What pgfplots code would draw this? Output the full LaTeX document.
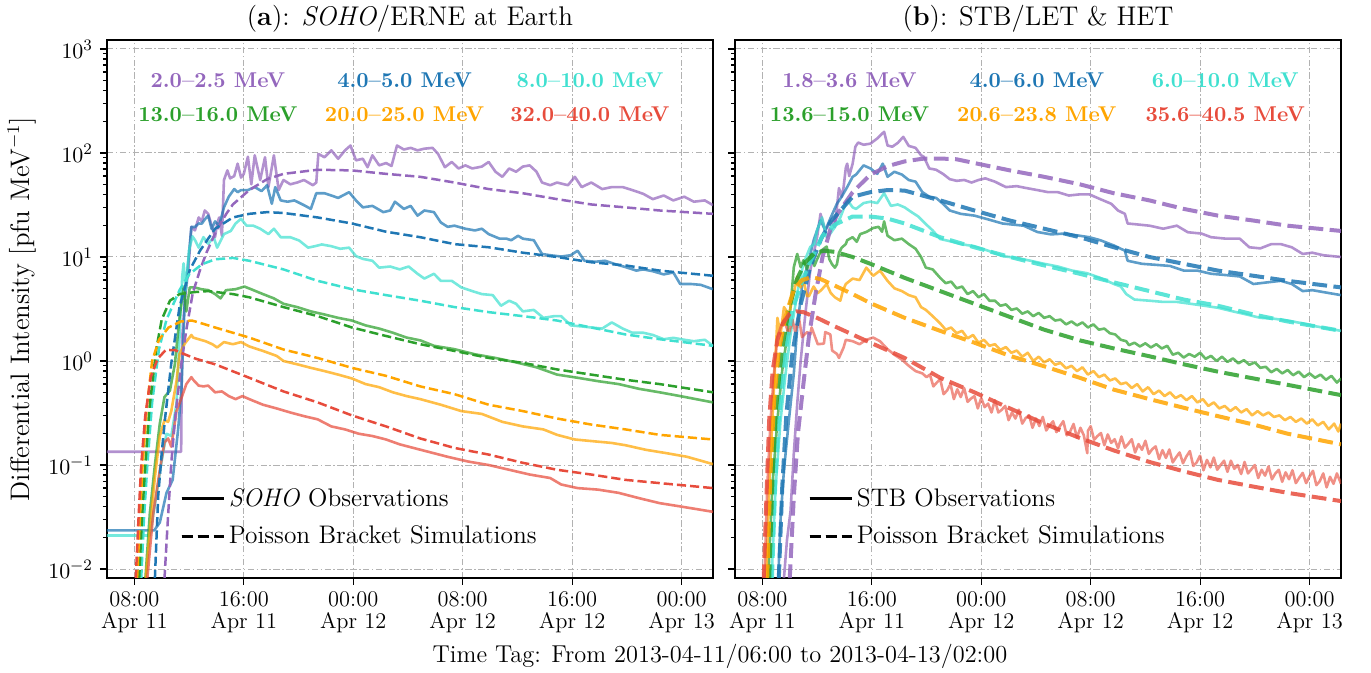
\documentclass[border=0pt]{standalone}
\usepackage{pgfplots}
\pgfplotsset{compat=1.18}
\definecolor{cpur}{HTML}{9467BD}
\definecolor{cblu}{HTML}{1F77B4}
\definecolor{ccya}{HTML}{40E0D0}
\definecolor{cgrn}{HTML}{2CA02C}
\definecolor{corg}{HTML}{FFA500}
\definecolor{cred}{HTML}{E74C3C}
\definecolor{cgrid}{RGB}{178,178,178}
\tikzset{
 obs/.style={line width=1.3pt, opacity=0.72, line join=round},
 simL/.style={line width=1.25pt, dash pattern=on 4.6pt off 2pt},
 simR/.style={line width=2pt, dash pattern=on 7.4pt off 3.2pt, opacity=0.85},
 elab/.style={font=\fontsize{10.7}{12}\selectfont\bfseries, anchor=center},
}
\pgfplotsset{every axis title/.style={at={(axis description cs:0.5,1)}, anchor=base, yshift=7pt, font=\fontsize{13.5}{15}\selectfont}}
\begin{document}
\begin{tikzpicture}
\useasboundingbox (-53.5pt,-47.5pt) rectangle (632pt,289pt);
% ================= LEFT PANEL =================
\begin{axis}[at={(0pt,0pt)}, anchor=south west,
  width=303pt, height=269pt, scale only axis,
  xmin=0, xmax=44.3, ymode=log, ymin=0.0082, ymax=1220,
  xtick={2,10,18,26,34,42},
  xticklabels={{08:00\\Apr 11},{16:00\\Apr 11},{00:00\\Apr 12},{08:00\\Apr 12},{16:00\\Apr 12},{00:00\\Apr 13}},
  xticklabel style={align=center, font=\fontsize{11.2}{10.9}\selectfont},
  ytick={0.01,0.1,1,10,100,1000},
  yticklabel style={font=\fontsize{11.2}{13}\selectfont},
  tick align=outside, tick pos=left,
  major tick length=3.5pt, minor tick length=2pt,
  tick style={black, line width=0.6pt},
  grid=major,
  major grid style={cgrid, line width=0.5pt, dash pattern=on 3.2pt off 1.2pt on 0.8pt off 1.2pt},
  axis line style={line width=0.9pt},
  legend image code/.code={\draw[#1] (0pt,0pt) -- (15pt,0pt); \path (0pt,0pt) -- (21pt,0pt);},
  legend cell align=left,
  legend style={at={(axis description cs:0.121,0.0502)}, anchor=south west, draw=none, fill=none,
    inner sep=0pt, outer sep=0pt, row sep=4.5pt, column sep=0pt,
    font=\fontsize{12.7}{14}\selectfont},
  title={(\textbf{a}): \textit{SOHO}/ERNE at Earth},
  ylabel={Differential Intensity [pfu MeV$^{-1}$]},
  ylabel style={at={(axis description cs:-0.1403,0.5)}, anchor=center, font=\fontsize{13.4}{14}\selectfont}]
\addlegendimage{black, line width=1.25pt}
\addlegendentry{\textit{SOHO} Observations}
\addlegendimage{black, line width=1.25pt, dash pattern=on 5.5pt off 2.5pt}
\addlegendentry{Poisson Bracket Simulations}
% observations
\addplot[obs, cpur, forget plot] table {
0 0.134
5.42 0.134
5.46 0.6
5.5 1.7
5.7 4
5.94 7.4
6.17 19.5
6.43 18
6.7 24
6.93 22
7.15 28
7.4 26
7.65 20
7.9 15.5
8.05 21
8.2 24
8.4 16
8.55 55
8.8 68
9.0 57
9.3 60
9.55 79
9.8 58
10.0 63
10.3 92
10.55 50
10.8 95
11.2 55
11.55 91
11.8 47
12.2 95
12.55 44
12.9 55
13.4 50
13.9 52
14.4 55
15.05 49
15.3 52
15.45 98
15.9 91
16.4 106
16.9 88
17.4 106
17.8 118
18.2 85
18.7 88
19.05 73
19.4 95
19.9 76
20.4 80
20.8 75
21.2 118
21.7 108
22.2 112
22.7 106
23.2 110
23.8 112
24.2 98
24.7 73
25.2 82
25.7 71
26.2 76
26.7 71
27.4 74
27.9 82
28.4 66
28.9 59
29.4 71
29.9 66
30.4 74
30.9 76
31.4 66
31.8 52
32.4 49
32.9 52
33.7 49
34.2 59
34.7 47
35.4 52
36.2 45
36.9 47
37.7 47
38.4 44
39.2 40.5
39.9 36
40.7 39
41.4 35
42.2 38
42.9 34
43.7 35
44.3 31.5
};
\addplot[obs, cblu, forget plot] table {
0 0.0235
3.45 0.0235
3.86 0.028
4.35 0.054
4.8 0.072
5.2 0.22
5.44 0.53
5.7 4.2
5.93 8.7
6.17 19.5
6.43 19.4
6.7 21
6.93 20.9
7.15 23
7.4 25
7.65 18.6
7.9 22
8.2 20
8.55 30
8.9 38
9.3 45
9.55 42
9.8 44
10.3 44
10.8 47
11.3 43
11.7 49
12.05 32.5
12.3 47
12.7 35
13.2 34
13.7 35
14.4 31.5
14.9 29
15.3 41
15.9 41
16.4 39
16.9 37
17.7 42
18.2 35
18.7 30
19.4 31
20.2 27
20.7 28
21.05 34
21.7 29
22.2 31
22.7 25
23.2 28
23.9 27
24.4 21.5
24.9 19.5
25.4 20
26.2 18.7
26.9 18
27.4 18.7
27.9 16.6
28.7 15
29.2 15
29.55 14.5
30.05 16
30.4 15
31.2 14.5
31.8 10.7
32.4 10.4
33.2 10.1
33.9 10.4
34.4 11.5
34.9 9.2
35.7 9.0
36.4 9.2
37.2 8.5
37.9 8.0
38.7 7.4
39.2 7.6
39.9 7.3
40.7 6.8
41.4 7.1
41.9 5.5
42.7 5.5
43.4 5.4
44.3 4.9
};
\addplot[obs, ccya, forget plot] table {
0 0.021
3.13 0.021
3.6 0.05
4.0 0.11
4.35 0.2
4.7 0.19
5.08 0.39
5.3 1.7
5.5 6.5
5.6 8.7
5.76 4.8
6.0 11.7
6.25 15.8
6.45 14.4
6.7 12.3
7.05 15.5
7.4 13.4
7.8 15.5
8.05 12.3
8.55 16.6
9.05 17.8
9.4 21
9.8 23.3
10.2 20
10.7 20
11.2 18.7
11.8 16.6
12.2 18.7
12.7 15.5
13.4 15.5
14.05 14.4
14.7 12.3
15.2 12.7
15.7 13.2
16.4 12.7
17.05 12
17.7 12.3
18.2 10.2
18.7 9.6
19.4 9.2
19.9 7.9
20.7 8.1
21.4 7.6
22.05 8.1
22.7 6.9
23.2 6.2
23.9 6.9
24.4 5.9
25.2 5.9
25.9 5.1
26.7 4.7
27.4 4.4
28.2 4.3
28.8 3.4
29.4 3.8
29.9 3.55
30.4 3.0
31.2 3.1
31.9 2.6
32.7 2.7
33.2 2.7
33.9 2.2
34.7 2.15
35.4 2.1
36.2 2.05
36.9 2.35
37.7 2.05
38.4 1.87
39.2 1.87
39.9 1.78
40.7 1.62
41.4 1.67
42.2 1.6
42.9 1.55
43.7 1.6
44.3 1.4
};
\addplot[obs, cgrn, forget plot] table {
2.7 0.005
3.13 0.034
3.5 0.1
3.86 0.25
4.2 0.45
4.6 0.52
4.96 0.93
5.3 2.6
5.6 5.1
5.8 3.0
6.05 5.1
6.4 5.1
6.9 4.9
7.4 4.8
7.9 4.4
8.3 4.0
8.7 4.8
9.4 4.9
10.05 5.2
10.7 4.8
11.4 4.4
12.2 4.0
12.9 3.55
13.9 3.3
14.9 3.0
15.9 2.8
16.9 2.6
17.9 2.45
18.9 2.2
19.9 2.05
20.9 1.87
21.9 1.68
22.9 1.58
23.9 1.4
25.4 1.3
26.9 1.16
28.4 1.07
29.9 0.97
31.4 0.87
32.9 0.74
34.4 0.69
35.9 0.64
37.4 0.6
38.9 0.54
40.4 0.5
41.9 0.46
44.3 0.4
};
\addplot[obs, corg, forget plot] table {
2.7 0.005
3.13 0.023
3.5 0.076
3.86 0.19
4.2 0.27
4.47 0.26
4.7 0.33
5.08 0.64
5.3 1.17
5.7 1.48
6.17 1.78
6.3 1.68
6.7 1.62
7.2 1.55
7.7 1.45
8.05 1.35
8.55 1.52
9.2 1.45
9.8 1.52
10.4 1.38
11.4 1.25
12.4 1.12
12.9 1.0
13.9 0.93
14.9 0.86
15.9 0.8
16.9 0.74
17.9 0.68
18.9 0.6
19.9 0.56
20.9 0.5
21.9 0.46
22.9 0.43
24.4 0.38
25.9 0.33
27.4 0.31
28.9 0.26
30.4 0.235
31.9 0.22
32.9 0.195
34.2 0.176
35.4 0.17
36.9 0.163
37.9 0.155
39.4 0.14
40.9 0.13
42.4 0.12
44.3 0.102
};
\addplot[obs, cred, forget plot] table {
2.8 0.005
3.38 0.034
3.86 0.089
4.2 0.165
4.47 0.18
4.7 0.15
5.08 0.33
5.44 0.44
5.8 0.6
6.17 0.7
6.3 0.66
6.7 0.58
7.05 0.57
7.4 0.58
7.9 0.5
8.4 0.51
8.9 0.46
9.4 0.43
9.9 0.46
10.4 0.43
11.4 0.38
12.4 0.35
13.4 0.32
14.4 0.295
15.4 0.275
16.4 0.235
17.4 0.22
18.4 0.2
19.4 0.19
20.4 0.176
21.4 0.158
22.4 0.146
23.4 0.135
24.9 0.12
26.4 0.108
27.9 0.1
29.4 0.09
30.9 0.081
32.4 0.075
33.2 0.065
34.4 0.06
35.9 0.058
37.4 0.054
38.9 0.048
40.4 0.043
41.9 0.04
44.3 0.0355
};
% simulations
\addplot[simL, cpur, forget plot] table {
4.2 0.008
4.45 0.03
4.7 0.105
5.0 0.3
5.44 0.95
5.8 2.0
6.27 4.5
6.8 7.5
7.27 11
8.0 18
8.72 26
9.2 32
10.4 44
11.7 56
12.9 63
15.4 69
17.9 68
20.4 63
22.9 59
25.4 52
27.9 45
30.4 41
32.9 36
35.4 32
37.9 30
40.4 28
44.3 26
};
\addplot[simL, cblu, forget plot] table {
3.5 0.008
3.74 0.05
4.0 0.13
4.23 0.27
4.7 0.95
5.3 3.3
6.05 7.5
6.8 11.5
7.5 15.7
7.9 18.7
9.2 24
10.4 26
11.7 27
12.9 26.5
15.4 24
17.9 21
20.4 17.5
22.9 15.5
25.4 13.3
27.9 12.4
30.4 11
32.9 10
35.4 8.9
37.9 8.3
40.4 7.4
44.3 6.6
};
\addplot[simL, ccya, forget plot] table {
2.5 0.008
2.7 0.03
2.95 0.1
3.3 0.4
3.8 1.3
4.35 2.5
5.3 4.8
6.0 6.8
6.93 8.5
7.9 9.5
9.2 9.8
10.4 9.2
12.9 7.6
15.4 5.9
17.9 4.9
20.4 4.3
22.9 3.8
25.4 3.3
27.9 2.95
30.4 2.7
32.9 2.45
35.4 2.1
37.9 1.8
40.4 1.62
44.3 1.4
};
\addplot[simL, cgrn, forget plot] table {
2.35 0.008
2.55 0.03
2.8 0.1
3.1 0.35
3.6 1.3
4.0 2.5
4.6 3.8
5.3 4.4
6.4 4.6
7.4 4.7
9.2 4.4
10.4 4.1
12.9 3.3
15.4 2.7
17.9 2.1
20.4 1.74
22.9 1.45
25.4 1.25
27.9 1.07
30.4 0.96
32.9 0.83
35.4 0.74
37.9 0.66
40.4 0.6
44.3 0.5
};
\addplot[simL, corg, forget plot] table {
2.2 0.008
2.4 0.03
2.6 0.1
2.9 0.35
3.3 1.0
3.8 1.6
4.5 2.1
5.4 2.4
6.2 2.45
6.7 2.35
7.9 2.1
10.4 1.68
12.9 1.29
15.4 1.07
17.9 0.86
20.4 0.72
22.9 0.57
25.4 0.48
27.9 0.38
30.4 0.33
32.9 0.28
35.4 0.245
37.9 0.22
40.4 0.195
44.3 0.176
};
\addplot[simL, cred, forget plot] table {
2.1 0.008
2.3 0.03
2.5 0.1
2.8 0.3
3.2 0.7
3.7 1.05
4.3 1.28
5.0 1.27
5.4 1.2
6.5 1.05
7.9 0.93
10.4 0.69
12.9 0.51
15.4 0.4
17.9 0.3
20.4 0.235
22.9 0.18
25.4 0.146
27.9 0.126
30.4 0.105
32.9 0.09
35.4 0.081
37.9 0.072
40.4 0.067
44.3 0.06
};
\node[elab, text=cpur] at (rel axis cs:0.183,0.926) {2.0--2.5 MeV};
\node[elab, text=cblu] at (rel axis cs:0.491,0.926) {4.0--5.0 MeV};
\node[elab, text=ccya] at (rel axis cs:0.797,0.926) {8.0--10.0 MeV};
\node[elab, text=cgrn] at (rel axis cs:0.183,0.862) {13.0--16.0 MeV};
\node[elab, text=corg] at (rel axis cs:0.491,0.862) {20.0--25.0 MeV};
\node[elab, text=cred] at (rel axis cs:0.797,0.862) {32.0--40.0 MeV};
\end{axis}
% ================= RIGHT PANEL =================
\begin{axis}[at={(314pt,0pt)}, anchor=south west,
  width=303pt, height=269pt, scale only axis,
  xmin=0, xmax=44.3, ymode=log, ymin=0.0082, ymax=1220,
  xtick={2,10,18,26,34,42},
  xticklabels={{08:00\\Apr 11},{16:00\\Apr 11},{00:00\\Apr 12},{08:00\\Apr 12},{16:00\\Apr 12},{00:00\\Apr 13}},
  xticklabel style={align=center, font=\fontsize{11.2}{10.9}\selectfont},
  ytick={0.01,0.1,1,10,100,1000},
  yticklabels={},
  tick align=outside, tick pos=left,
  major tick length=3.5pt, minor tick length=2pt,
  tick style={black, line width=0.6pt},
  grid=major,
  major grid style={cgrid, line width=0.5pt, dash pattern=on 3.2pt off 1.2pt on 0.8pt off 1.2pt},
  axis line style={line width=0.9pt},
  legend image code/.code={\draw[#1] (0pt,0pt) -- (15pt,0pt); \path (0pt,0pt) -- (21pt,0pt);},
  legend cell align=left,
  legend style={at={(axis description cs:0.121,0.0502)}, anchor=south west, draw=none, fill=none,
    inner sep=0pt, outer sep=0pt, row sep=4.5pt, column sep=0pt,
    font=\fontsize{12.7}{14}\selectfont},
  title={(\textbf{b}): STB/LET \& HET}]
\addlegendimage{black, line width=1.25pt}
\addlegendentry{STB Observations}
\addlegendimage{black, line width=1.25pt, dash pattern=on 5.5pt off 2.5pt}
\addlegendentry{Poisson Bracket Simulations}
\addplot[obs, cpur, forget plot] table {
3.45 0.005
3.8 0.019
4.06 0.036
4.3 0.13
4.55 0.39
4.8 1.0
5.15 2.9
5.5 7.4
6.0 15.5
6.25 26
6.6 18
7.0 22
7.3 19.4
7.45 30
7.6 46
7.8 38
7.94 47
8.1 72
8.2 79
8.35 60
8.6 79
8.8 115
9.0 126
9.4 120
9.9 123
10.4 138
10.9 160
11.15 118
11.5 115
11.9 125
12.3 143
12.7 117
13.2 112
13.6 95
13.8 92
14.2 71
14.7 69
15.2 63
15.7 56
16.2 54
16.75 55
17.3 52
17.8 55
18.3 57
19.0 53
19.8 47
20.6 48
21.3 46
22.1 44
22.9 42
23.6 42
24.4 39
25.2 40
25.9 40
26.7 36
27.5 32.5
28.0 28
28.5 26
28.7 21
29.5 20.5
30.3 20
31.3 18.7
32.3 20
33.1 17.3
34.1 16.8
34.8 15.5
35.9 15
36.9 15
37.6 12.4
38.4 12.1
39.2 13.3
39.9 13.3
40.7 12.4
41.5 10.7
42.2 11
43.0 10.4
44.3 10
};
\addplot[obs, cblu, forget plot] table {
3.1 0.005
3.33 0.03
3.58 0.09
3.94 0.27
4.3 0.76
4.55 2.1
4.9 5.2
5.4 9.3
5.75 14.5
6.25 22.5
6.6 18
7.0 24
7.45 32.5
7.8 38
8.2 47
8.6 59
8.85 62
9.4 76
9.9 71
10.4 63
10.8 79
11.15 59
11.65 66
12.2 62
12.7 55
13.2 53
13.7 42
14.2 38
14.7 37
15.2 32.5
15.7 28
16.5 26
17.5 25
18.5 23
19.55 21
20.3 20.5
21.1 20
22.1 17.4
23.1 16.5
24.1 16.8
25.2 16
25.9 15.5
26.7 14.5
27.7 12.9
28.5 11.5
28.7 9.2
29.75 8.6
30.8 8.4
31.8 8.2
32.8 7.4
33.8 7.4
34.8 6.9
35.9 6.7
36.9 6.5
37.9 5.5
38.9 5.7
39.9 5.9
40.7 5.5
41.5 4.7
42.2 4.8
43.0 4.6
44.3 4.3
};
\addplot[obs, ccya, forget plot] table {
2.6 0.005
2.97 0.062
3.33 0.27
3.7 0.76
4.06 1.8
4.55 4.5
5.0 8.6
5.5 12.5
5.8 13.3
6.0 18
6.36 24
6.7 15.5
7.0 17
7.3 19.4
7.7 24
8.2 35.5
8.6 30
8.85 29
9.4 33
9.9 34
10.4 33
10.9 41
11.4 31
11.9 32
12.4 30
12.9 27
13.4 24.5
13.9 21
14.45 18
15.0 14.9
15.7 14.2
16.5 13.3
17.5 12.7
18.5 11.5
19.55 10.2
20.6 9.8
21.6 9.2
22.6 8.6
23.6 8.1
24.65 7.4
25.7 7.0
26.7 6.3
27.7 5.5
28.2 5.2
28.6 4.4
29.2 3.9
30.3 3.8
31.3 3.7
32.3 3.7
33.3 3.55
34.3 3.4
35.3 3.25
36.4 3.0
37.4 2.8
38.4 2.6
39.4 2.55
40.4 2.45
41.5 2.3
42.5 2.15
44.3 1.95
};
\addplot[obs, cgrn, forget plot] table {
2.36 0.005
2.73 0.062
3.1 0.27
3.45 0.81
3.8 1.7
4.06 3.3
4.3 8
4.55 10.7
4.8 8
5.0 9.3
5.27 7.6
5.6 10.7
5.8 8.2
6.0 9.5
6.3 11.5
6.7 12.6
6.9 9.5
7.1 8.5
7.3 7.9
7.45 8.5
7.6 11
7.8 12.3
8.1 13.3
8.2 14.5
8.6 15.5
8.9 14
9.15 16.6
9.6 17.4
10.1 19
10.5 19.5
10.75 17.5
10.9 22
11.15 16
11.65 14.5
12.2 15
12.7 13.3
13.2 12
13.6 10
13.95 7.9
14.45 7.6
15.0 6.3
15.4 5.6
15.8 5.8
16.2 5.0
16.6 5.2
17.0 4.4
17.4 4.7
17.8 4.1
18.2 4.4
18.6 3.8
19.0 3.8
19.4 3.4
19.8 3.5
20.2 3.1
20.6 3.2
21.0 2.85
21.4 3.0
21.8 2.7
22.2 2.9
22.6 2.6
23.0 2.7
23.4 2.45
23.8 2.5
24.2 2.25
24.6 2.4
25.0 2.2
25.4 2.35
25.8 2.1
26.2 2.25
26.6 2.0
27.0 2.05
27.4 1.85
27.8 1.8
28.2 1.6
28.6 1.55
28.8 1.42
29.2 1.5
29.6 1.38
30.0 1.48
30.4 1.35
30.8 1.45
31.2 1.32
31.6 1.4
32.0 1.15
32.4 1.2
32.8 1.08
33.2 1.17
33.6 1.1
34.0 1.2
34.4 1.05
34.8 1.12
35.2 1.0
35.6 1.1
36.0 0.98
36.4 1.06
36.8 0.95
37.2 1.02
37.6 0.92
38.0 0.97
38.4 0.86
38.8 0.88
39.2 0.78
39.6 0.84
40.0 0.76
40.4 0.82
40.8 0.73
41.2 0.79
41.6 0.7
42.0 0.76
42.4 0.69
42.8 0.74
43.2 0.66
43.6 0.72
44.0 0.62
44.3 0.68
};
\addplot[obs, corg, forget plot] table {
2.24 0.005
2.5 0.062
2.73 0.27
2.97 1.17
3.1 2.6
3.33 1.8
3.58 3.3
3.94 2.8
4.3 4.5
4.55 6.5
4.8 5.1
5.0 6
5.27 4.2
5.4 4.2
5.75 5.2
6.05 4.5
6.3 4.8
6.7 5.5
7.0 4.5
7.3 4.1
7.7 3.8
7.9 4.8
8.1 5.5
8.6 6.2
9.1 6.0
9.6 7.9
10.1 6.6
10.6 7.4
11.15 5.9
11.65 5.0
12.2 4.7
12.7 4.3
13.2 4.1
13.6 3.3
13.95 3.1
14.45 2.7
15.0 2.3
15.4 2.0
15.8 2.1
16.2 1.85
16.6 1.95
17.0 1.65
17.4 1.78
17.8 1.5
18.2 1.6
18.6 1.4
19.0 1.45
19.4 1.28
19.8 1.36
20.2 1.2
20.6 1.26
21.0 1.1
21.4 1.2
21.8 1.0
22.2 1.1
22.6 0.97
23.0 1.04
23.4 0.92
23.8 0.96
24.2 0.85
24.6 0.9
25.0 0.8
25.4 0.87
25.8 0.74
26.2 0.8
26.6 0.7
27.0 0.74
27.4 0.65
27.8 0.68
28.2 0.6
28.6 0.62
29.0 0.55
29.4 0.6
29.8 0.51
30.2 0.56
30.6 0.48
31.0 0.52
31.4 0.46
31.8 0.5
32.2 0.44
32.6 0.47
33.0 0.42
33.4 0.46
33.8 0.4
34.2 0.43
34.6 0.37
35.0 0.4
35.4 0.35
35.8 0.37
36.2 0.33
36.6 0.36
37.0 0.32
37.4 0.345
37.8 0.3
38.2 0.33
38.6 0.3
39.0 0.32
39.4 0.29
39.8 0.3
40.2 0.27
40.6 0.29
41.0 0.26
41.4 0.28
41.8 0.25
42.2 0.275
42.6 0.24
43.0 0.26
43.4 0.22
43.8 0.25
44.1 0.21
44.3 0.25
};
\addplot[obs, cred, opacity=0.62, forget plot] table {
2.1 0.005
2.36 0.062
2.6 0.27
2.85 0.76
3.1 1.7
3.33 2.1
3.58 2.5
3.94 1.8
4.2 2.5
4.4 1.9
4.67 2.6
4.9 1.7
5.27 1.9
5.5 1.8
5.6 2.1
6.05 1.45
6.5 1.47
6.6 1.9
6.97 1.8
7.1 1.26
7.45 1.17
7.6 1.07
7.94 1.35
8.1 1.6
8.6 1.55
9.1 1.45
9.6 1.6
10.1 1.68
10.6 1.55
11.15 1.3
11.65 1.15
12.2 1.03
12.7 0.9
13.2 0.8
13.7 0.76
14.0 0.70
14.25 0.74
14.5 0.57
14.75 0.62
15.0 0.67
15.25 0.48
15.5 0.52
15.75 0.6
16.0 0.43
16.25 0.535
16.5 0.45
16.75 0.55
17.0 0.405
17.25 0.435
17.5 0.46
17.75 0.35
18.0 0.44
18.25 0.36
18.5 0.39
18.75 0.32
19.0 0.42
19.25 0.32
19.5 0.34
19.75 0.37
20.0 0.27
20.25 0.32
20.5 0.28
20.75 0.34
21.0 0.25
21.25 0.283
21.5 0.30
21.75 0.228
22.0 0.28
22.25 0.237
22.5 0.29
22.75 0.215
23.0 0.24
23.25 0.263
23.5 0.207
23.75 0.236
24.0 0.264
24.25 0.193
24.5 0.21
24.75 0.248
25.0 0.183
25.25 0.228
25.5 0.193
25.75 0.13
25.8 0.213
26.0 0.236
26.25 0.175
26.5 0.19
26.75 0.203
27.0 0.155
27.25 0.197
27.5 0.163
27.75 0.177
28.0 0.145
28.25 0.188
28.5 0.147
28.75 0.16
29.0 0.177
29.25 0.132
29.5 0.159
29.75 0.14
30.0 0.171
30.25 0.128
30.5 0.142
30.75 0.151
31.0 0.114
31.25 0.139
31.5 0.117
31.75 0.141
32.0 0.106
32.25 0.119
32.5 0.132
32.75 0.104
33.0 0.121
33.25 0.136
33.5 0.098
33.75 0.106
34.0 0.123
34.25 0.089
34.5 0.112
34.75 0.095
35.0 0.118
35.25 0.09
35.5 0.1
35.75 0.11
36.0 0.086
36.25 0.11
36.5 0.092
36.75 0.1
37.0 0.082
37.25 0.107
37.5 0.083
37.75 0.091
38.0 0.1
38.25 0.075
38.5 0.09
38.75 0.079
39.0 0.097
39.25 0.073
39.5 0.083
39.75 0.09
40.0 0.069
40.25 0.085
40.5 0.073
40.75 0.089
41.0 0.067
41.25 0.0755
41.5 0.084
41.75 0.067
42.0 0.078
42.25 0.088
42.5 0.064
42.75 0.07
43.0 0.083
43.25 0.061
43.5 0.077
43.75 0.066
44.0 0.083
44.3 0.066
};
% simulations
\addplot[simR, cpur, forget plot] table {
4.0 0.008
4.3 0.05
4.6 0.2
5.0 0.6
5.4 1.7
5.9 4.5
6.4 10
7.0 19
7.5 26
8.6 42
9.9 62
11.2 75
12.4 83
13.7 88
15.0 88.5
16.2 87
17.5 80
20.1 68
22.6 59
25.2 50
27.7 41
30.3 35
32.8 29
35.3 25
37.9 22.4
40.4 20
44.3 17.8
};
\addplot[simR, cblu, forget plot] table {
3.2 0.008
3.45 0.06
3.75 0.3
4.2 1.2
4.8 3.5
5.5 8
6.3 15
7.0 22
8.6 38
9.9 42
11.15 44
12.4 43.5
13.7 39
15.0 35
17.5 28
20.1 22.4
22.6 18.7
25.2 15.5
27.7 12.4
30.3 10
32.8 8.6
35.3 7.4
37.9 6.6
40.4 5.9
44.3 5.1
};
\addplot[simR, ccya, forget plot] table {
2.7 0.008
2.95 0.07
3.2 0.27
3.7 1.26
4.2 3.1
4.9 5.8
5.5 9
6.4 16
7.3 20.5
8.6 24.5
9.9 24.5
11.15 23.4
12.4 21
15.0 15.5
17.5 12.4
20.1 10
22.6 8.3
25.2 6.9
27.7 5.7
30.3 4.7
32.8 3.9
35.3 3.4
37.9 2.8
40.4 2.4
44.3 1.95
};
\addplot[simR, cgrn, forget plot] table {
2.5 0.008
2.75 0.08
3.0 0.35
3.4 1.2
3.9 3.0
4.5 6.0
5.1 8.8
5.8 10.8
6.5 11.5
7.3 11.2
8.6 10
9.9 8.6
12.4 6.3
15.0 4.7
17.5 3.55
20.1 2.65
22.6 2.0
25.2 1.58
27.7 1.32
30.3 1.11
32.8 0.93
35.3 0.79
37.9 0.68
40.4 0.59
44.3 0.47
};
\addplot[simR, corg, forget plot] table {
2.35 0.008
2.6 0.09
2.85 0.4
3.2 1.26
3.7 2.7
4.3 4.9
4.9 6.0
5.6 6.4
6.3 6.1
7.3 5.3
8.6 4.4
9.9 3.6
12.4 2.6
15.0 1.95
17.5 1.5
20.1 1.12
22.6 0.89
25.2 0.69
27.7 0.53
30.3 0.43
32.8 0.355
35.3 0.295
37.9 0.245
40.4 0.2
44.3 0.158
};
\addplot[simR, cred, forget plot] table {
2.1 0.008
2.3 0.05
2.5 0.27
2.75 0.8
3.1 1.6
3.5 2.3
4.0 2.85
4.5 3.0
5.0 2.95
6.0 2.6
7.3 2.15
9.9 1.5
12.4 1.07
15.0 0.69
17.5 0.5
20.1 0.35
22.6 0.25
25.2 0.182
27.7 0.138
30.3 0.107
32.8 0.087
35.3 0.072
37.9 0.062
40.4 0.054
44.3 0.045
};
\node[elab, text=cpur] at (rel axis cs:0.189,0.926) {1.8--3.6 MeV};
\node[elab, text=cblu] at (rel axis cs:0.498,0.926) {4.0--6.0 MeV};
\node[elab, text=ccya] at (rel axis cs:0.809,0.926) {6.0--10.0 MeV};
\node[elab, text=cgrn] at (rel axis cs:0.189,0.862) {13.6--15.0 MeV};
\node[elab, text=corg] at (rel axis cs:0.498,0.862) {20.6--23.8 MeV};
\node[elab, text=cred] at (rel axis cs:0.809,0.862) {35.6--40.5 MeV};
\end{axis}
\node[font=\fontsize{12.2}{14}\selectfont, anchor=base] at (306.5pt,-42.5pt) {Time Tag: From 2013-04-11/06:00 to 2013-04-13/02:00};
\end{tikzpicture}
\end{document}
